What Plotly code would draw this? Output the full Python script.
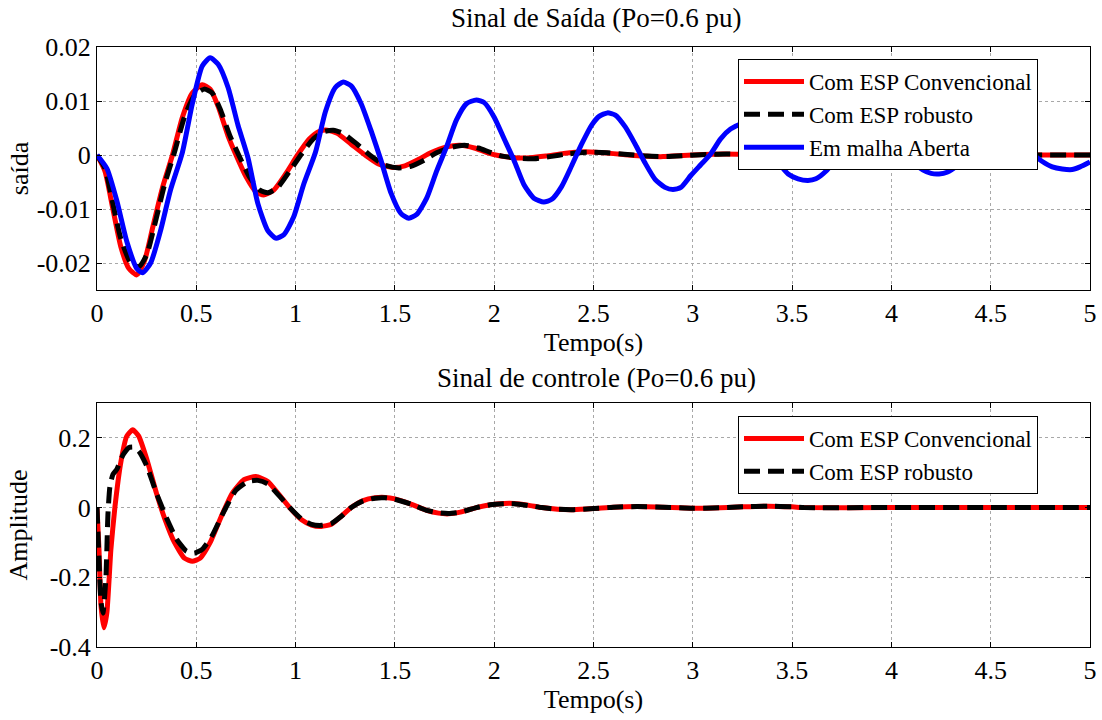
import plotly.graph_objects as go

# ---- Sinal de saída (Po=0.6 pu) ----
t_conv_out = [0.00, 0.04, 0.08, 0.12, 0.16, 0.20, 0.24, 0.28, 0.33, 0.38, 0.43, 0.48, 0.53, 0.57,
              0.61, 0.66, 0.70, 0.75, 0.80, 0.84, 0.89, 0.95, 1.01, 1.07, 1.12, 1.16, 1.21, 1.28,
              1.35, 1.42, 1.49, 1.55, 1.62, 1.68, 1.76, 1.83, 1.90, 1.96, 2.02, 2.10, 2.18, 2.26,
              2.35, 2.45, 2.55, 2.65, 2.75, 2.85, 2.95, 3.05, 3.15, 3.30, 3.45, 4.00, 4.50, 5.00]
y_conv_out = [0.0, -0.003, -0.010, -0.017, -0.0210, -0.0222, -0.0195, -0.0135, -0.0060, 0.0, 0.0070,
              0.0115, 0.0130, 0.0122, 0.0090, 0.0035, 0.0, -0.0040, -0.0068, -0.0074, -0.0065,
              -0.0035, 0.0, 0.0030, 0.0044, 0.0046, 0.0040, 0.0020, 0.0, -0.0017, -0.0023, -0.0020,
              -0.0008, 0.0004, 0.0015, 0.0018, 0.0013, 0.0005, -0.0001, -0.0005, -0.0005, -0.0002,
              0.0003, 0.0006, 0.0004, 0.0001, -0.0002, -0.0003, -0.0001, 0.0001, 0.0002, 0.0001,
              0.0, 0.0, 0.0, 0.0]

t_rob_out = [0.00, 0.04, 0.08, 0.12, 0.17, 0.21, 0.25, 0.29, 0.34, 0.39, 0.44, 0.49, 0.54, 0.58,
             0.62, 0.67, 0.72, 0.77, 0.82, 0.86, 0.91, 0.97, 1.03, 1.09, 1.14, 1.19, 1.24, 1.31,
             1.38, 1.45, 1.52, 1.58, 1.65, 1.71, 1.78, 1.85, 1.92, 1.98, 2.04, 2.12, 2.20, 2.28,
             2.37, 2.47, 2.57, 2.67, 2.77, 2.87, 2.97, 3.07, 3.17, 3.30, 3.45, 4.00, 4.50, 5.00]
y_rob_out = [0.0, -0.0025, -0.009, -0.0155, -0.0200, -0.0207, -0.0185, -0.0130, -0.0055, 0.0005,
             0.0070, 0.0110, 0.0122, 0.0115, 0.0085, 0.0035, -0.0005, -0.0042, -0.0065, -0.0070,
             -0.0060, -0.0030, 0.0002, 0.0030, 0.0043, 0.0046, 0.0040, 0.0020, -0.0002, -0.0019,
             -0.0024, -0.0021, -0.0009, 0.0004, 0.0014, 0.0018, 0.0013, 0.0005, -0.0002, -0.0006,
             -0.0007, -0.0003, 0.0002, 0.0005, 0.0004, 0.0001, -0.0002, -0.0003, -0.0001, 0.0001,
             0.0002, 0.0001, 0.0, 0.0, 0.0, 0.0]

t_open_out = [0.00, 0.05, 0.10, 0.15, 0.20, 0.23, 0.27, 0.32, 0.37, 0.43, 0.48, 0.53, 0.57, 0.61,
              0.66, 0.71, 0.76, 0.81, 0.86, 0.90, 0.94, 0.99, 1.04, 1.10, 1.15, 1.20, 1.24, 1.28,
              1.33, 1.38, 1.43, 1.48, 1.53, 1.57, 1.61, 1.66, 1.71, 1.76, 1.81, 1.86, 1.91, 1.95,
              2.00, 2.05, 2.10, 2.15, 2.20, 2.25, 2.29, 2.34, 2.39, 2.44, 2.49, 2.53, 2.57, 2.61,
              2.66, 2.71, 2.76, 2.81, 2.86, 2.90, 2.94, 2.99, 3.04, 3.09, 3.14, 3.19, 3.24, 3.28,
              3.33, 3.38, 3.43, 3.48, 3.53, 3.58, 3.62, 3.67, 3.72, 3.77, 3.82, 3.87, 3.92, 3.96,
              4.01, 4.06, 4.11, 4.16, 4.20, 4.24, 4.28, 4.33, 4.38, 4.43, 4.48, 4.53, 4.57, 4.61,
              4.66, 4.71, 4.76, 4.81, 4.86, 4.91, 4.95, 5.00]
y_open_out = [0.0, -0.0025, -0.0085, -0.0160, -0.0210, -0.0218, -0.0200, -0.0140, -0.0065, 0.0005,
              0.0095, 0.0165, 0.0180, 0.0168, 0.0125, 0.0055, -0.0005, -0.0090, -0.0140, -0.0154,
              -0.0148, -0.0115, -0.0055, 0.0005, 0.0080, 0.0125, 0.0135, 0.0128, 0.0095, 0.0045,
              -0.0010, -0.0070, -0.0108, -0.0117, -0.0110, -0.0080, -0.0030, 0.0015, 0.0065, 0.0095,
              0.0102, 0.0097, 0.0070, 0.0030, -0.0010, -0.0055, -0.0080, -0.0087, -0.0082, -0.0058,
              -0.0020, 0.0020, 0.0055, 0.0072, 0.0078, 0.0074, 0.0052, 0.0020, -0.0015, -0.0045,
              -0.0060, -0.0064, -0.0060, -0.0038, -0.0018, 0.0002, 0.0030, 0.0048, 0.0057, 0.0054,
              0.0038, 0.0012, -0.0014, -0.0035, -0.0044, -0.0047, -0.0044, -0.0030, -0.0008, 0.0014,
              0.0032, 0.0040, 0.0042, 0.0039, 0.0027, 0.0006, -0.0014, -0.0028, -0.0034, -0.0035,
              -0.0032, -0.0020, -0.0002, 0.0015, 0.0026, 0.0030, 0.0031, 0.0028, 0.0018, 0.0002,
              -0.0012, -0.0022, -0.0026, -0.0027, -0.0022, -0.0013]

# ---- Sinal de controle (Po=0.6 pu) ----
t_conv_ctl = [0.00, 0.01, 0.02, 0.035, 0.05, 0.07, 0.09, 0.12, 0.15, 0.18, 0.21, 0.25, 0.30, 0.34,
              0.39, 0.44, 0.48, 0.52, 0.57, 0.63, 0.68, 0.74, 0.80, 0.86, 0.92, 0.97, 1.03, 1.08,
              1.13, 1.18, 1.23, 1.28, 1.34, 1.40, 1.45, 1.50, 1.58, 1.66, 1.72, 1.77, 1.83, 1.91,
              1.98, 2.05, 2.10, 2.17, 2.24, 2.32, 2.40, 2.50, 2.60, 2.72, 2.85, 3.00, 3.10, 3.25,
              3.38, 3.50, 3.56, 4.00, 4.50, 5.00]
y_conv_ctl = [0.0, -0.12, -0.28, -0.345, -0.30, -0.12, 0.0, 0.13, 0.205, 0.223, 0.205, 0.14, 0.04,
              -0.03, -0.10, -0.145, -0.154, -0.145, -0.10, -0.02, 0.04, 0.08, 0.089, 0.075, 0.035,
              0.0, -0.035, -0.050, -0.054, -0.048, -0.025, 0.0, 0.020, 0.028, 0.029, 0.025, 0.010,
              -0.008, -0.016, -0.018, -0.013, 0.0, 0.008, 0.012, 0.012, 0.007, 0.0, -0.005, -0.006,
              -0.003, 0.001, 0.003, 0.001, -0.002, -0.001, 0.002, 0.004, 0.002, 0.0, 0.0, 0.0, 0.0]

t_rob_ctl = [0.00, 0.01, 0.02, 0.03, 0.045, 0.055, 0.065, 0.08, 0.10, 0.13, 0.16, 0.18, 0.21, 0.25,
             0.30, 0.35, 0.40, 0.45, 0.49, 0.53, 0.58, 0.64, 0.70, 0.76, 0.81, 0.86, 0.92, 0.97,
             1.03, 1.08, 1.13, 1.18, 1.23, 1.28, 1.34, 1.40, 1.45, 1.50, 1.58, 1.66, 1.72, 1.77,
             1.83, 1.91, 1.98, 2.05, 2.10, 2.17, 2.24, 2.32, 2.40, 2.50, 2.60, 2.72, 2.85, 3.00,
             3.10, 3.25, 3.38, 3.50, 3.56, 4.00, 4.50, 5.00]
y_rob_ctl = [0.0, -0.15, -0.27, -0.303, -0.20, -0.02, 0.06, 0.095, 0.11, 0.15, 0.172, 0.174, 0.162,
             0.12, 0.04, -0.03, -0.09, -0.125, -0.131, -0.12, -0.08, -0.01, 0.05, 0.075, 0.078,
             0.068, 0.032, 0.0, -0.033, -0.048, -0.051, -0.046, -0.025, 0.0, 0.019, 0.027, 0.028,
             0.024, 0.010, -0.008, -0.015, -0.017, -0.013, 0.0, 0.008, 0.011, 0.011, 0.006, 0.0,
             -0.005, -0.006, -0.003, 0.001, 0.003, 0.001, -0.002, -0.001, 0.002, 0.004, 0.002,
             0.0, 0.0, 0.0, 0.0]

x_ticks = [0, 0.5, 1, 1.5, 2, 2.5, 3, 3.5, 4, 4.5, 5]
x_tick_text = ["0", "0.5", "1", "1.5", "2", "2.5", "3", "3.5", "4", "4.5", "5"]
y_ticks_out = [-0.02, -0.01, 0, 0.01, 0.02]
y_tick_text_out = ["-0.02", "-0.01", "0", "0.01", "0.02"]
y_ticks_ctl = [-0.4, -0.2, 0, 0.2]
y_tick_text_ctl = ["-0.4", "-0.2", "0", "0.2"]

FONT = "Liberation Serif"
FS = 26
W, H = 1102, 720

RED = "#ff0000"
BLACK = "#000000"
BLUE = "#0000ff"
LW = 5
DASH = "16px,8px"

fig = go.Figure()

line_kw = dict(mode="lines", line_shape="spline")

fig.add_trace(go.Scatter(x=t_conv_out, y=y_conv_out, name="Com ESP Convencional",
                         line=dict(color=RED, width=LW, smoothing=0.6), xaxis="x", yaxis="y",
                         legend="legend", **line_kw))
fig.add_trace(go.Scatter(x=t_rob_out, y=y_rob_out, name="Com ESP robusto",
                         line=dict(color=BLACK, width=LW, dash=DASH, smoothing=0.6),
                         xaxis="x", yaxis="y", legend="legend", **line_kw))
fig.add_trace(go.Scatter(x=t_open_out, y=y_open_out, name="Em malha Aberta",
                         line=dict(color=BLUE, width=LW, smoothing=0.6), xaxis="x", yaxis="y",
                         legend="legend", **line_kw))

fig.add_trace(go.Scatter(x=t_conv_ctl, y=y_conv_ctl, name="Com ESP Convencional",
                         line=dict(color=RED, width=LW, smoothing=0.5), xaxis="x2", yaxis="y2",
                         legend="legend2", **line_kw))
fig.add_trace(go.Scatter(x=t_rob_ctl, y=y_rob_ctl, name="Com ESP robusto",
                         line=dict(color=BLACK, width=LW, dash=DASH, smoothing=0.5),
                         xaxis="x2", yaxis="y2", legend="legend2", **line_kw))

# pixel-based placement helpers
def px_x(p):
    return p / W

def px_y(p):
    return 1 - p / H

axis_common = dict(
    showline=True, linecolor="black", linewidth=1, mirror="ticks",
    ticks="inside", ticklen=5, tickcolor="black",
    showgrid=True, gridcolor="#a8a8a8", griddash="dot", gridwidth=1,
    zeroline=False, automargin=False,
    tickfont=dict(family=FONT, size=FS, color="black"),
)

x_dom = [px_x(97), px_x(1090)]

fig.update_layout(
    width=W, height=H,
    margin=dict(l=0, r=0, t=0, b=0, autoexpand=False),
    paper_bgcolor="white", plot_bgcolor="white",
    font=dict(family=FONT, size=FS, color="black"),
    xaxis=dict(domain=x_dom, range=[0, 5], anchor="y", tickvals=x_ticks, ticktext=x_tick_text,
               title=dict(text="Tempo(s)", standoff=0, font=dict(family=FONT, size=FS)),
               **axis_common),
    yaxis=dict(domain=[px_y(290), px_y(47)], range=[-0.025, 0.02], anchor="x",
               tickvals=y_ticks_out, ticktext=y_tick_text_out,
               title=dict(text="saída", standoff=0, font=dict(family=FONT, size=FS)),
               **axis_common),
    xaxis2=dict(domain=x_dom, range=[0, 5], anchor="y2", tickvals=x_ticks, ticktext=x_tick_text,
                title=dict(text="Tempo(s)", standoff=3, font=dict(family=FONT, size=FS)),
                **axis_common),
    yaxis2=dict(domain=[px_y(647), px_y(403)], range=[-0.4, 0.3], anchor="x2",
                tickvals=y_ticks_ctl, ticktext=y_tick_text_ctl,
                title=dict(text="Amplitude", standoff=14, font=dict(family=FONT, size=FS)),
                **axis_common),
    legend=dict(x=px_x(738), y=px_y(59), xanchor="left", yanchor="top",
                bgcolor="white", bordercolor="black", borderwidth=1,
                font=dict(family=FONT, size=FS - 3, color="black"),
                itemwidth=60, tracegroupgap=0),
    legend2=dict(x=px_x(738), y=px_y(416), xanchor="left", yanchor="top",
                 bgcolor="white", bordercolor="black", borderwidth=1,
                 font=dict(family=FONT, size=FS - 3, color="black"),
                 itemwidth=60, tracegroupgap=0),
    showlegend=True,
    annotations=[
        dict(text="Sinal de Saída (Po=0.6 pu)", xref="paper", yref="paper",
             x=px_x(596), y=px_y(18), xanchor="center", yanchor="middle", showarrow=False,
             font=dict(family=FONT, size=FS + 1, color="black")),
        dict(text="Sinal de controle (Po=0.6 pu)", xref="paper", yref="paper",
             x=px_x(596), y=px_y(378), xanchor="center", yanchor="middle", showarrow=False,
             font=dict(family=FONT, size=FS + 1, color="black")),
    ],
)

fig.write_html("out.html")
